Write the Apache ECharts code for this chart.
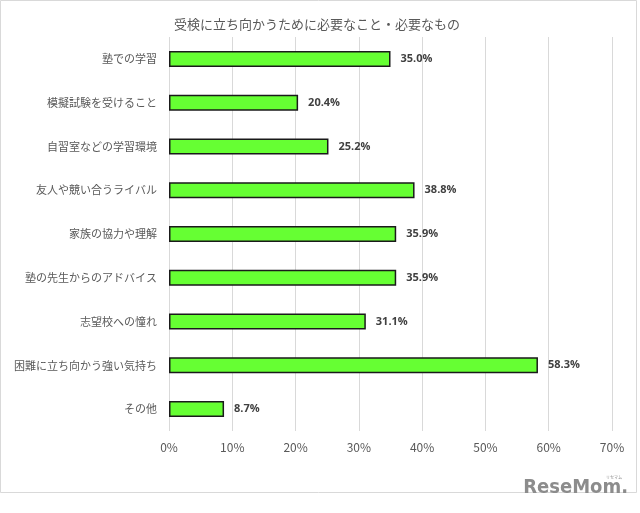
<!DOCTYPE html>
<html>
<head>
<meta charset="utf-8">
<script src="https://cdn.jsdelivr.net/npm/echarts@6/dist/echarts.min.js"></script>
<style>
  html, body { margin: 0; padding: 0; background: #fff; }
  #chart { width: 640px; height: 513px; }
</style>
</head>
<body>
<div id="chart"></div>
<script>
  const titleText = '受検に立ち向かうために必要なこと・必要なもの'
  const categories = [
    '塾での学習',
    '模擬試験を受けること',
    '自習室などの学習環境',
    '友人や競い合うライバル',
    '家族の協力や理解',
    '塾の先生からのアドバイス',
    '志望校への憧れ',
    '困難に立ち向かう強い気持ち',
    'その他'
  ]
  const values = [35.0, 20.4, 25.2, 38.8, 35.9, 35.9, 31.1, 58.3, 8.7]

  const jpFont = '"Noto Sans CJK JP", "Noto Sans", sans-serif'

  const chart = echarts.init(document.getElementById('chart'))
  chart.setOption({
    backgroundColor: '#fff',
    animation: false,
    title: {
      text: titleText,
      left: 312,
      top: 13,
      textAlign: 'center',
      textStyle: { color: '#595959', fontSize: 13, fontWeight: 'normal', fontFamily: jpFont }
    },
    graphic: [
      {
        type: 'rect',
        shape: { x: 0.5, y: 0.5, width: 636, height: 492 },
        style: { fill: 'none', stroke: '#d9d9d9', lineWidth: 1 },
        silent: true
      },
      {
        type: 'text',
        right: 12,
        top: 478,
        style: {
          text: 'ReseMom.',
          fill: '#8c8c8c',
          font: 'bold 20px "DejaVu Sans Condensed", sans-serif'
        }
      },
      {
        type: 'text',
        right: 18,
        top: 475,
        style: { text: 'リセマム', fill: '#8c8c8c', font: '4px ' + jpFont }
      }
    ],
    grid: { left: 169, right: 28, top: 37, bottom: 82 },
    xAxis: {
      type: 'value',
      min: 0,
      max: 70,
      interval: 10,
      axisLine: { show: false },
      axisTick: { show: false },
      splitLine: { lineStyle: { color: '#d9d9d9', width: 1 } },
      axisLabel: {
        formatter: '{value}%',
        color: '#595959',
        fontSize: 12,
        fontFamily: jpFont,
        margin: 10
      }
    },
    yAxis: {
      type: 'category',
      data: categories,
      inverse: true,
      axisLine: { show: false },
      axisTick: { show: false },
      axisLabel: { color: '#595959', fontSize: 11, fontFamily: jpFont, margin: 12 }
    },
    series: [{
      type: 'bar',
      data: values,
      barWidth: 16,
      itemStyle: { color: '#66ff33', borderColor: '#1a1a1a', borderWidth: 1.5 },
      label: {
        show: true,
        position: 'right',
        distance: 10,
        formatter: p => p.value.toFixed(1) + '%',
        color: '#404040',
        fontSize: 11,
        fontWeight: 'bold',
        fontFamily: '"Open Sans", sans-serif'
      }
    }]
  })
</script>
</body>
</html>
